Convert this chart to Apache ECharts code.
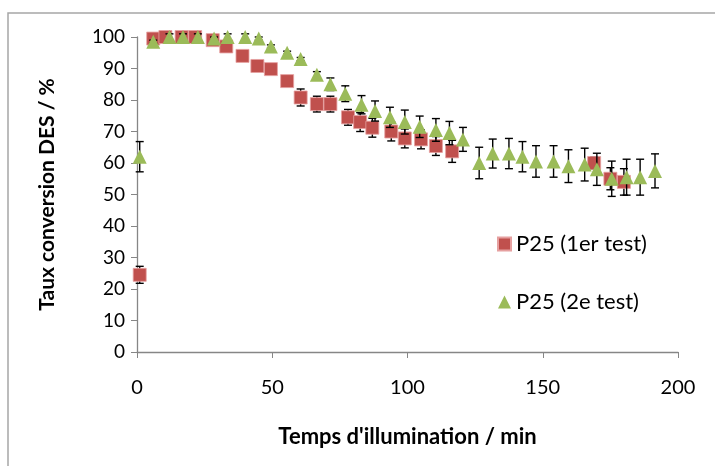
<!DOCTYPE html>
<html>
<head>
<meta charset="utf-8">
<script src="https://cdn.jsdelivr.net/npm/echarts@6/dist/echarts.min.js"></script>
<style>html,body{margin:0;padding:0;background:#fff}#c{width:715px;height:466px}</style>
</head>
<body>
<div id="c"></div>
<script>
// Series 1: P25 (1er test)
var tRed = [1, 6, 10.5, 16.5, 21.5, 28, 33, 39, 44.5, 49.5, 55.5, 60.5, 66.5, 71.5, 78, 82.5, 87, 94, 99, 105, 110.5, 116.5, 169, 175, 180];
var vRed = [24.5, 99.5, 100, 100, 100, 99, 97, 94, 90.8, 89.8, 86, 80.8, 78.7, 78.7, 74.5, 73, 71.2, 70, 67.8, 67.5, 65.4, 63.7, 60, 55, 54];
var eRed = [2.7, 0.5, 0.5, 0.5, 0.5, 0.5, 0.5, 1, 1, 1, 1, 2.7, 2.5, 2.5, 2.5, 3, 3, 3, 3, 3, 3, 3.5, 2, 3.5, 4.2];
// Series 2: P25 (2e test)
var tGreen = [1, 6, 12, 17, 22.5, 28.5, 33.5, 40, 45, 49.5, 55.5, 60.5, 66.5, 71.5, 77, 83, 88, 93.5, 99, 104.5, 110.5, 115.5, 120.5, 126.5, 131.5, 137.5, 142.5, 147.5, 154, 159.5, 165.5, 170, 175.5, 181, 186, 191.5];
var vGreen = [62, 98.5, 100, 100, 100, 99.5, 100, 100, 99.5, 97, 95, 93, 88, 85, 82, 78.5, 76.5, 74.5, 73, 71.5, 70.5, 69.5, 67.5, 60, 63, 63, 62, 60.5, 60.5, 59, 59.5, 58, 55, 55.5, 55.5, 57.5];
var eGreen = [4.8, 0.5, 1, 1, 1, 0.5, 1, 1, 0.5, 0.5, 0.5, 0.5, 1, 2, 2.5, 2.9, 3.2, 3.2, 3.8, 3.4, 3.6, 3.7, 3.8, 5, 4.6, 4.8, 4.8, 5, 5, 5.2, 5.2, 5.1, 5.6, 5.7, 5.7, 5.4];
var seriesNames = ['P25 (1er test)', 'P25 (2e test)'];
var xName = "Temps d'illumination / min";
var yName = 'Taux conversion DES / %';

var RED = '#C0504D', GREEN = '#9BBB59';
var FONT = 'Lato, "Open Sans", sans-serif';

function pts(t, v) { return t.map(function (x, i) { return [x, v[i]]; }); }
function errs(t, v, e) { return t.map(function (x, i) { return [x, v[i], e[i]]; }); }

function renderErr(params, api) {
  var x = api.value(0), y = api.value(1), e = api.value(2);
  var hi = api.coord([x, y + e]), lo = api.coord([x, y - e]);
  var w = 4;
  var st = { stroke: '#000', lineWidth: 1.4 };
  return {
    type: 'group',
    children: [
      { type: 'line', shape: { x1: hi[0], y1: hi[1], x2: lo[0], y2: lo[1] }, style: st },
      { type: 'line', shape: { x1: hi[0] - w, y1: hi[1], x2: hi[0] + w, y2: hi[1] }, style: st },
      { type: 'line', shape: { x1: lo[0] - w, y1: lo[1], x2: lo[0] + w, y2: lo[1] }, style: st }
    ]
  };
}

var chart = echarts.init(document.getElementById('c'), null, { renderer: 'canvas' });
chart.setOption({
  animation: false,
  backgroundColor: '#fff',
  textStyle: { fontFamily: FONT },
  graphic: [{
    type: 'rect', shape: { x: 8, y: 13, width: 800, height: 600 },
    style: { fill: 'none', stroke: '#a6a6a6', lineWidth: 1.5 }, silent: true, z: -10
  }],
  grid: { left: 137, right: 37, top: 37, bottom: 114 },
  xAxis: {
    type: 'value', min: 0, max: 200, interval: 50,
    name: xName, nameLocation: 'middle', nameGap: 74,
    nameTextStyle: { fontFamily: FONT, fontSize: 22, fontWeight: 'bold', color: '#000' },
    axisLine: { lineStyle: { color: '#868686', width: 1.3 } },
    axisTick: { show: true, length: 6, lineStyle: { color: '#868686' } },
    axisLabel: { fontSize: 20, color: '#000', margin: 26, fontFamily: FONT },
    splitLine: { show: false }
  },
  yAxis: {
    type: 'value', min: 0, max: 100, interval: 10,
    name: yName, nameLocation: 'middle', nameGap: 79,
    nameTextStyle: { fontFamily: FONT, fontSize: 21, fontWeight: 'bold', color: '#000' },
    axisLine: { show: true, lineStyle: { color: '#868686', width: 1.3 } },
    axisTick: { show: true, length: 6, lineStyle: { color: '#868686' } },
    axisLabel: { fontSize: 19, color: '#000', margin: 12, fontFamily: FONT },
    splitLine: { show: false }
  },
  legend: {
    orient: 'vertical', left: 492, top: 228, itemGap: 36,
    itemWidth: 13, itemHeight: 13,
    textStyle: { fontSize: 22, color: '#000', fontFamily: FONT },
    data: [
      { name: seriesNames[0], icon: 'rect' },
      { name: seriesNames[1], icon: 'triangle' }
    ]
  },
  series: [
    { type: 'custom', renderItem: renderErr, data: errs(tRed, vRed, eRed), z: 2, silent: true },
    {
      name: seriesNames[0], type: 'scatter', symbol: 'rect', symbolSize: 13,
      itemStyle: { color: RED, borderColor: '#E6A0A0', borderWidth: 0.8, opacity: 1 },
      data: pts(tRed, vRed), z: 3
    },
    { type: 'custom', renderItem: renderErr, data: errs(tGreen, vGreen, eGreen), z: 4, silent: true },
    {
      name: seriesNames[1], type: 'scatter', symbol: 'triangle', symbolSize: [14, 14],
      itemStyle: { color: GREEN, opacity: 1 },
      data: pts(tGreen, vGreen), z: 5
    }
  ]
});
</script>
</body>
</html>
